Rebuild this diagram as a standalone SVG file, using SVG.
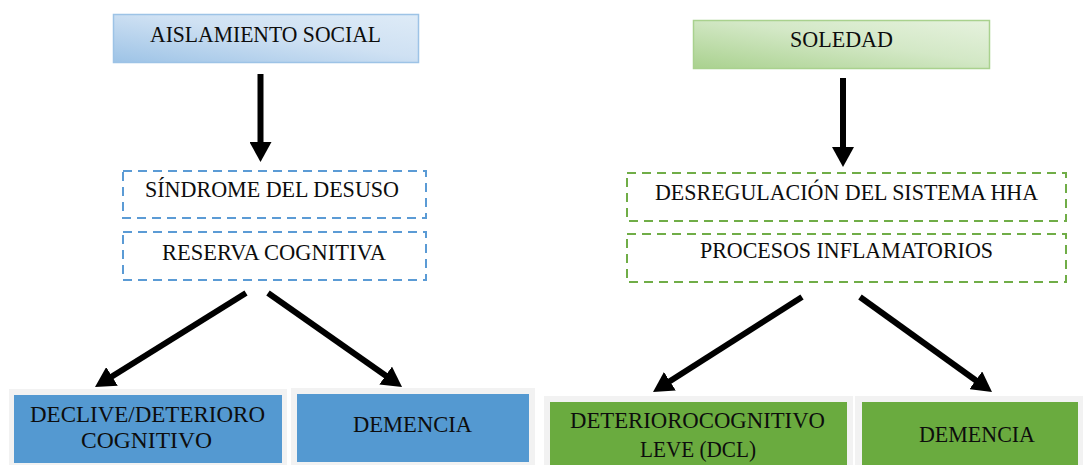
<svg xmlns="http://www.w3.org/2000/svg" width="1083" height="465" viewBox="0 0 1083 465">
<style>
text{font-family:'Liberation Serif','Times New Roman','DejaVu Serif',serif;font-size:22.5px;fill:#0d0d0d;text-anchor:middle}
.dashB{fill:#fff;stroke:#5b9bd5;stroke-width:2;stroke-dasharray:9 6}
.dashG{fill:#fff;stroke:#70ad47;stroke-width:2;stroke-dasharray:9 6}
.frame{fill:#f2f2f2}
.blue{fill:#5499d1}
.green{fill:#6aab3f}
.arr{stroke:#000;stroke-width:6;fill:none;marker-end:url(#ah)}
</style>
<defs>
<linearGradient id="gB" x1="0" y1="1" x2="1" y2="0">
<stop offset="0" stop-color="#9dc3e6"/><stop offset="0.55" stop-color="#cfe1f3"/><stop offset="1" stop-color="#deebf7"/>
</linearGradient>
<linearGradient id="gG" x1="0" y1="1" x2="1" y2="0">
<stop offset="0" stop-color="#a9d18e"/><stop offset="0.55" stop-color="#d3e8c6"/><stop offset="1" stop-color="#e6f2de"/>
</linearGradient>
<marker id="ah" viewBox="0 0 20 22" refX="2" refY="11" markerWidth="20" markerHeight="22" markerUnits="userSpaceOnUse" orient="auto">
<path d="M0,0 L20,11 L0,22 z" fill="#000"/>
</marker>
</defs>
<rect width="1083" height="465" fill="#fff"/>

<g id="aislamiento">
<rect x="113.5" y="14.5" width="305" height="48" fill="url(#gB)" stroke="#9dc3e6" stroke-width="1.5"/>
<text x="265.5" y="42" textLength="231" lengthAdjust="spacingAndGlyphs">AISLAMIENTO SOCIAL</text>
</g>
<g id="soledad">
<rect x="693.5" y="20.5" width="296" height="48" fill="url(#gG)" stroke="#a9d18e" stroke-width="1.5"/>
<text x="841.5" y="47" textLength="103" lengthAdjust="spacingAndGlyphs">SOLEDAD</text>
</g>

<g id="sindrome">
<rect class="dashB" x="123" y="171" width="303" height="47"/>
<text x="272" y="197" textLength="254" lengthAdjust="spacingAndGlyphs">SÍNDROME DEL DESUSO</text>
</g>
<g id="reserva">
<rect class="dashB" x="123" y="232" width="303" height="48"/>
<text x="274" y="260" textLength="224" lengthAdjust="spacingAndGlyphs">RESERVA COGNITIVA</text>
</g>
<g id="desregulacion">
<rect class="dashG" x="627" y="173" width="439" height="48"/>
<text x="846.5" y="200" textLength="383" lengthAdjust="spacingAndGlyphs">DESREGULACIÓN DEL SISTEMA HHA</text>
</g>
<g id="procesos">
<rect class="dashG" x="627" y="234" width="439" height="48"/>
<text x="846.5" y="258" textLength="293" lengthAdjust="spacingAndGlyphs">PROCESOS INFLAMATORIOS</text>
</g>

<g id="declive">
<rect class="frame" x="9" y="389" width="278" height="76"/>
<rect class="blue" x="14" y="395" width="268" height="68"/>
<text x="147.5" y="422" textLength="235" lengthAdjust="spacingAndGlyphs">DECLIVE/DETERIORO</text>
<text x="146.5" y="448" textLength="131" lengthAdjust="spacingAndGlyphs">COGNITIVO</text>
</g>
<g id="demencia1">
<rect class="frame" x="291" y="388" width="244" height="77"/>
<rect class="blue" x="297" y="394" width="232" height="68"/>
<text x="412.5" y="432" textLength="119" lengthAdjust="spacingAndGlyphs">DEMENCIA</text>
</g>
<g id="dcl">
<rect class="frame" x="544" y="396" width="309" height="69"/>
<rect class="green" x="550" y="402" width="297" height="63"/>
<text x="697.5" y="428" textLength="255" lengthAdjust="spacingAndGlyphs">DETERIOROCOGNITIVO</text>
<text x="698" y="457" textLength="116" lengthAdjust="spacingAndGlyphs">LEVE (DCL)</text>
</g>
<g id="demencia2">
<rect class="frame" x="855" y="396" width="228" height="69"/>
<rect class="green" x="862" y="402" width="216" height="63"/>
<text x="977" y="442" textLength="116" lengthAdjust="spacingAndGlyphs">DEMENCIA</text>
</g>

<g id="connectors">
<line class="arr" x1="260.5" y1="74" x2="260.5" y2="144"/>
<line class="arr" x1="843" y1="78" x2="843" y2="149"/>
<line class="arr" x1="246" y1="293" x2="110.3" y2="377.5"/>
<line class="arr" x1="268" y1="293" x2="387.3" y2="376.7"/>
<line class="arr" x1="802" y1="297" x2="668.2" y2="382.3"/>
<line class="arr" x1="860" y1="297" x2="977.4" y2="381.5"/>
</g>
</svg>
